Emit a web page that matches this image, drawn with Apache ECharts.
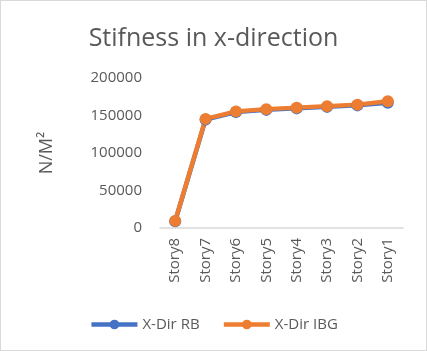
<!DOCTYPE html>
<html>
<head>
<meta charset="utf-8">
<script src="https://cdn.jsdelivr.net/npm/echarts@6/dist/echarts.min.js"></script>
<style>
    html, body { margin: 0; padding: 0; background: #fff; }
    #chart { width: 425px; height: 349px; border: 1px solid #d9d9d9; }
</style>
</head>
<body>
<div id="chart"></div>
<script>
var stories = ['Story8', 'Story7', 'Story6', 'Story5', 'Story4', 'Story3', 'Story2', 'Story1']
var rbValues = [9000, 144500, 154500, 157500, 159500, 161500, 163500, 167000]
var ibgValues = [9500, 145500, 155500, 158500, 160500, 162500, 164500, 169000]
var yTicks = [0, 50000, 100000, 150000, 200000]

var myChart = echarts.init(document.getElementById('chart'))
var option = {
    animation: false,
    title: {
        text: 'Stifness in x-direction',
        left: 'center',
        top: 20,
        textStyle: { fontFamily: 'Open Sans', fontSize: 25, fontWeight: 'normal', color: '#595959' }
    },
    legend: {
        bottom: 13,
        left: 'center',
        itemWidth: 46,
        itemHeight: 12,
        itemGap: 22,
        lineStyle: { width: 4.5 },
        textStyle: { fontFamily: 'Open Sans', fontSize: 15, color: '#595959' },
        data: ['X-Dir RB', 'X-Dir IBG']
    },
    grid: { left: 159, right: 23, top: 77, bottom: 122 },
    xAxis: {
        type: 'category',
        data: stories,
        boundaryGap: true,
        axisLine: { lineStyle: { color: '#d9d9d9', width: 1.5 } },
        axisTick: { show: false },
        axisLabel: { rotate: 90, fontFamily: 'Open Sans', fontSize: 15, color: '#595959', margin: 10 }
    },
    yAxis: {
        type: 'value',
        min: yTicks[0],
        max: yTicks[yTicks.length - 1],
        interval: 50000,
        name: 'N/M²',
        nameLocation: 'middle',
        nameGap: 104,
        nameRotate: 90,
        nameTextStyle: { fontFamily: 'Open Sans', fontSize: 18, color: '#595959' },
        axisLine: { show: false },
        axisTick: { show: false },
        splitLine: { show: false },
        axisLabel: {
            fontFamily: 'Open Sans', fontSize: 15, color: '#595959', margin: 18,
            formatter: function (v) { return String(v) }
        }
    },
    series: [
        {
            name: 'X-Dir RB',
            type: 'line',
            data: rbValues,
            symbol: 'circle',
            symbolSize: 12,
            lineStyle: { width: 4.5, color: '#4472c4' },
            itemStyle: { color: '#4472c4' }
        },
        {
            name: 'X-Dir IBG',
            type: 'line',
            data: ibgValues,
            symbol: 'circle',
            symbolSize: 12,
            lineStyle: { width: 4.5, color: '#ed7d31' },
            itemStyle: { color: '#ed7d31' }
        }
    ]
}
myChart.setOption(option)
</script>
</body>
</html>
